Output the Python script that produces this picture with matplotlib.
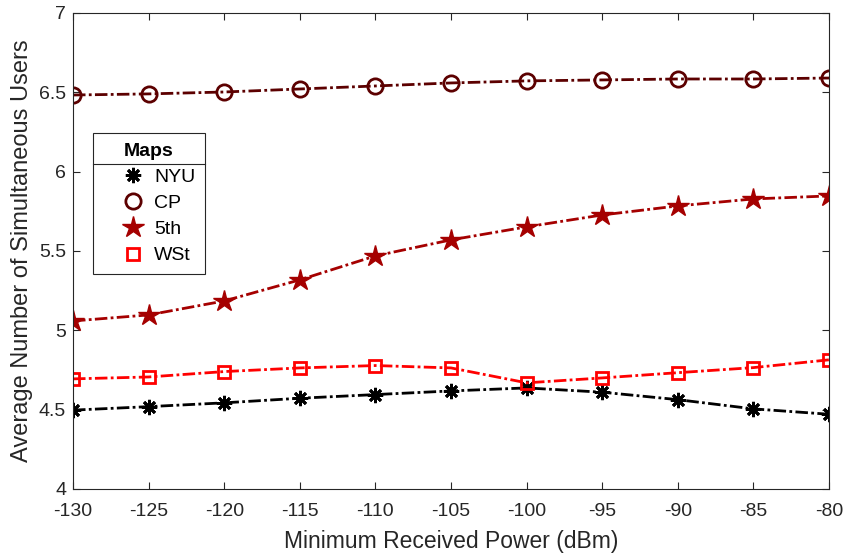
import matplotlib
matplotlib.use("Agg")
import matplotlib.pyplot as plt
from matplotlib.lines import Line2D
from matplotlib.legend_handler import HandlerLine2D

plt.rcParams['font.family'] = ['Liberation Sans', 'DejaVu Sans']

# data
power_dbm = [-130, -125, -120, -115, -110, -105, -100, -95, -90, -85, -80]
nyu = [4.497, 4.519, 4.543, 4.572, 4.595, 4.618, 4.637, 4.610, 4.563, 4.505, 4.471]
cp = [6.483, 6.490, 6.502, 6.521, 6.540, 6.559, 6.572, 6.578, 6.584, 6.584, 6.590]
fifth = [5.059, 5.097, 5.185, 5.318, 5.469, 5.570, 5.652, 5.727, 5.784, 5.828, 5.847]
wst = [4.694, 4.706, 4.740, 4.763, 4.778, 4.763, 4.669, 4.700, 4.733, 4.765, 4.814]

series_names = ["NYU", "CP", "5th", "WSt"]
x_ticks = [-130, -125, -120, -115, -110, -105, -100, -95, -90, -85, -80]
y_ticks = [4, 4.5, 5, 5.5, 6, 6.5, 7]
y_tick_labels = ["4", "4.5", "5", "5.5", "6", "6.5", "7"]

TXT = '#262626'
DASHDOT = (4.5, 1.2, 1.0, 1.2)

fig = plt.figure(figsize=(8.45, 5.57), dpi=100)
ax = fig.add_axes([0.0864, 0.1221, 0.8947, 0.8546])

common = dict(lw=2, dashes=DASHDOT)
ax.plot(power_dbm, nyu, color='black', marker=(8, 2, 0), markersize=11,
        markeredgewidth=2, label=series_names[0], **common)
ax.plot(power_dbm, cp, color='#5c0000', marker='o', markersize=11,
        markerfacecolor='none', markeredgewidth=2, label=series_names[1], **common)
ax.plot(power_dbm, fifth, color='#a50000', marker='*', markersize=16,
        markerfacecolor='#a50000', markeredgewidth=1, label=series_names[2], **common)
ax.plot(power_dbm, wst, color='#ff0000', marker='s', markersize=9,
        markerfacecolor='none', markeredgewidth=2, label=series_names[3], **common)

ax.set_xlim(-130, -80)
ax.set_ylim(4, 7)
ax.set_xticks(x_ticks)
ax.set_xticklabels([str(t) for t in x_ticks])
ax.set_yticks(y_ticks)
ax.set_yticklabels(y_tick_labels)
ax.tick_params(direction='in', top=True, right=True, labelsize=14,
               colors=TXT, length=5, width=0.8)
ax.tick_params(axis='x', pad=10)
ax.tick_params(axis='y', pad=5)
for sp in ax.spines.values():
    sp.set_color(TXT)
    sp.set_linewidth(0.8)

ax.set_xlabel("Minimum Received Power (dBm)", fontsize=16.5, color=TXT, labelpad=7)
ax.set_ylabel("Average Number of Simultaneous Users", fontsize=17, color=TXT, labelpad=4)

leg = ax.legend(loc='upper left', bbox_to_anchor=(0.0265, 0.748), borderaxespad=0,
                title="Maps", title_fontproperties={'weight': 'bold', 'size': 14},
                fontsize=14, fancybox=False, edgecolor=TXT, framealpha=1,
                handlelength=2.24, handletextpad=0.4, labelspacing=0.44,
                borderpad=0.5,
                handler_map={Line2D: HandlerLine2D(xpad=0.88)})
leg.get_frame().set_linewidth(0.8)
for h in leg.legend_handles:
    h.set_linestyle('none')

# separator line under the legend title
fig.canvas.draw()
r = fig.canvas.get_renderer()
lb = leg.get_window_extent(r)
tb = leg.get_title().get_window_extent(r)
sep_y = tb.y0 - 4
inv = fig.transFigure.inverted()
(x0, y0) = inv.transform((lb.x0, sep_y))
(x1, _) = inv.transform((lb.x1, sep_y))
fig.add_artist(Line2D([x0, x1], [y0, y0], color=TXT, lw=0.8, zorder=10))

fig.savefig("out.png", dpi=100)
